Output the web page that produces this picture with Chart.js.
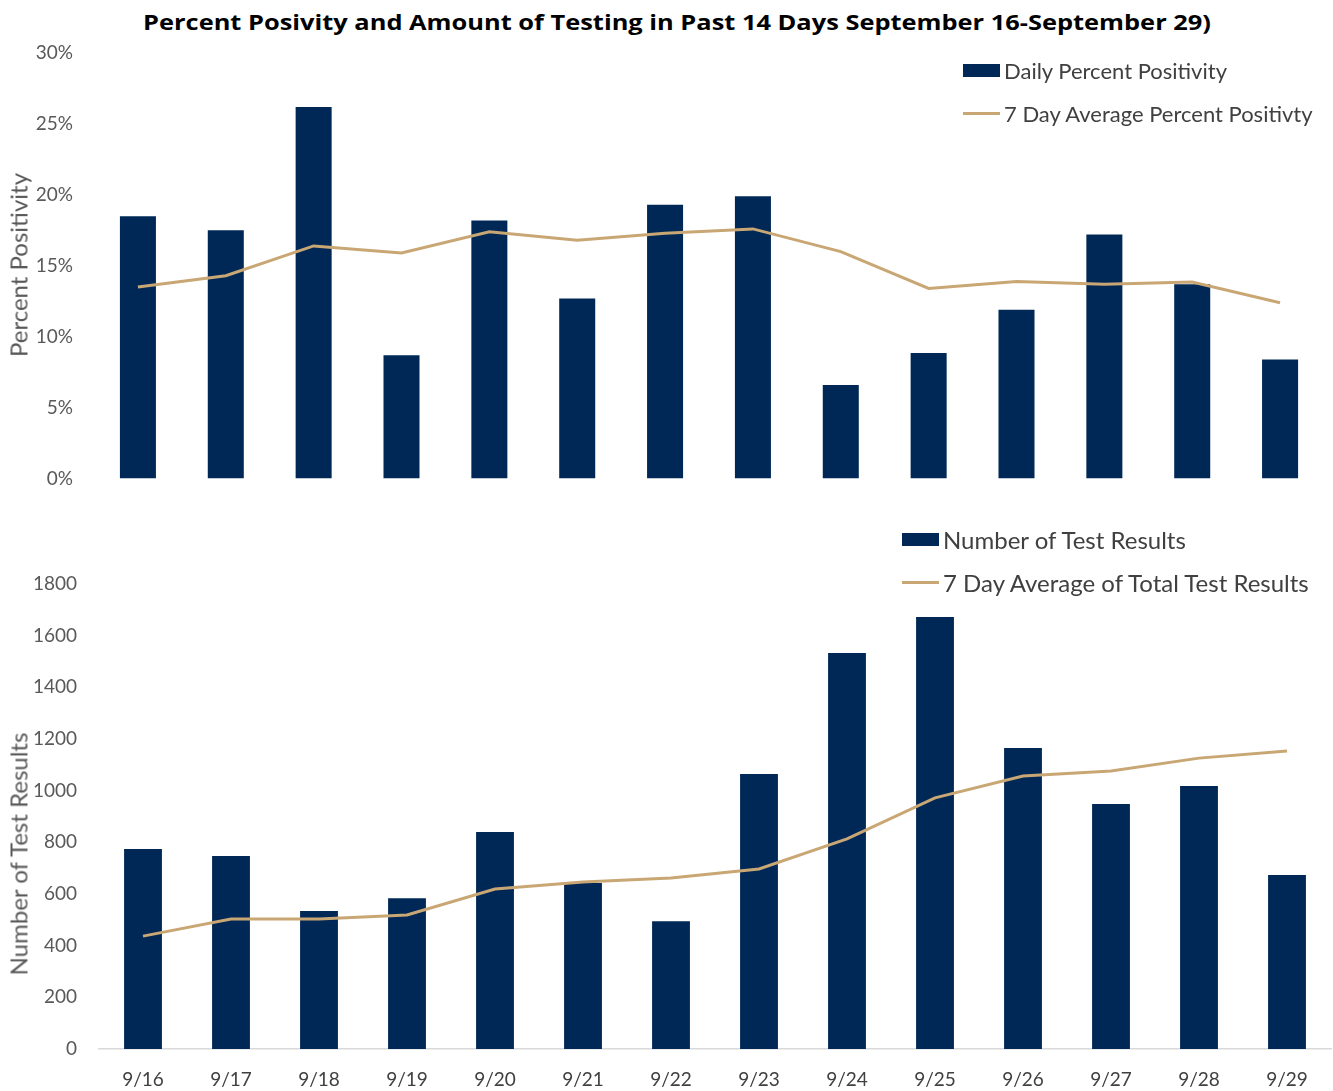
<!DOCTYPE html>
<html>
<head>
<meta charset="utf-8">
<script src="https://cdn.jsdelivr.net/npm/chart.js@4.4.1/dist/chart.umd.min.js"></script>
<style>
  body { margin: 0; background: #fff; font-family: Lato, "Open Sans", sans-serif; }
  #wrap { position: relative; width: 1333px; height: 1091px; overflow: hidden; }
  .panel { position: absolute; left: 0; width: 1333px; }
  #title { position: absolute; left: 677px; top: 22px; transform: translate(-50%, -50%) scaleX(1.21);
           font-family: "Open Sans", Lato, sans-serif;
           font-weight: 700; font-size: 21px; color: #000; white-space: nowrap; }
  .ytitle { position: absolute; transform: translate(-50%, -50%) rotate(-90deg);
            font-size: 24px; color: #595959; white-space: nowrap; }
  .legend { position: absolute; color: #404040; }
  .legend .item { display: flex; align-items: center; height: 43px; white-space: nowrap; }
  .legend .sw-box { display: inline-block; width: 37px; height: 13px; margin-right: 4px; }
  .legend .sw-line { display: inline-block; width: 37px; height: 3px; margin-right: 4px; }
</style>
</head>
<body>
<div id="wrap">
  <div id="title">Percent Posivity and Amount of Testing in Past 14 Days September 16-September 29)</div>
  <div class="panel" style="top:0;height:511px"><canvas id="posChart"></canvas></div>
  <div class="panel" style="top:490px;height:601px"><canvas id="testChart"></canvas></div>
  <div class="ytitle" style="left:18px;top:265px">Percent Positivity</div>
  <div class="ytitle" style="left:18px;top:854px">Number of Test Results</div>
  <div class="legend" id="posLegend" style="left:963px;top:49px;font-size:22px"></div>
  <div class="legend" id="testLegend" style="left:902px;top:518px;font-size:24px"></div>
</div>
<script>
// Values.
const DAYS = ['9/16', '9/17', '9/18', '9/19', '9/20', '9/21', '9/22',
              '9/23', '9/24', '9/25', '9/26', '9/27', '9/28', '9/29'];

const DAILY_POSITIVITY = [18.5, 17.5, 26.2, 8.7, 18.2, 12.7, 19.3, 19.9, 6.6, 8.85, 11.9, 17.2, 13.7, 8.4];
const AVG_POSITIVITY   = [13.5, 14.3, 16.4, 15.9, 17.4, 16.8, 17.3, 17.6, 16.0, 13.4, 13.9, 13.7, 13.85, 12.4];

const TEST_RESULTS = [774, 747, 534, 584, 840, 643, 495, 1065, 1533, 1672, 1165, 948, 1018, 674];
const AVG_TESTS    = [437, 503, 503, 519, 619, 646, 662, 697, 813, 972, 1057, 1076, 1126, 1154];

const PCT_AXIS   = { min: 0, max: 30, step: 5 };
const TEST_AXIS  = { min: 0, max: 1800, step: 200 };

const NAVY = '#002856';
const TAN  = '#c9a774';
const TICK_FONT = { family: 'Lato, "Open Sans", sans-serif', size: 19 };

function fixWidth(w) { return scale => { scale.width = w; }; }
function fixHeight(h) { return scale => { scale.height = h; }; }

function buildLegend(el, chart) {
  el.innerHTML = chart.data.datasets.map(ds => {
    const sw = ds.type === 'line'
      ? `<span class="sw-line" style="background:${ds.borderColor}"></span>`
      : `<span class="sw-box" style="background:${ds.backgroundColor}"></span>`;
    return `<div class="item">${sw}<span>${ds.label}</span></div>`;
  }).join('');
}

function makeChart(id, cfg) {
  return new Chart(document.getElementById(id).getContext('2d'), {
    data: {
      labels: DAYS,
      datasets: [
        { type: 'bar', label: cfg.barLabel, data: cfg.bars, backgroundColor: NAVY,
          barPercentage: cfg.barPct, categoryPercentage: 1, order: 1 },
        { type: 'line', label: cfg.lineLabel, data: cfg.line, borderColor: TAN,
          borderWidth: 3, pointRadius: 0, tension: 0, fill: false, order: 0 },
      ],
    },
    options: {
      responsive: true, maintainAspectRatio: false, animation: false,
      layout: { padding: cfg.padding },
      plugins: { legend: { display: false }, tooltip: { enabled: false } },
      scales: {
        x: {
          display: cfg.showX,
          grid: { display: false, drawTicks: false },
          border: { display: cfg.showX, color: '#d9d9d9', width: 1.5 },
          ticks: { color: '#404040', font: TICK_FONT, padding: 19, maxRotation: 0 },
          afterFit: fixHeight(cfg.xHeight || 0),
        },
        y: {
          min: cfg.axis.min, max: cfg.axis.max,
          grid: { display: false, drawTicks: false },
          border: { display: false },
          ticks: { stepSize: cfg.axis.step, color: '#595959', font: TICK_FONT,
                   padding: cfg.tickPad, callback: cfg.fmt },
          afterFit: fixWidth(cfg.yWidth),
        },
      },
    },
  });
}

const posChart = makeChart('posChart', {
  barLabel: 'Daily Percent Positivity', lineLabel: '7 Day Average Percent Positivty',
  bars: DAILY_POSITIVITY, line: AVG_POSITIVITY, axis: PCT_AXIS, barPct: 0.41,
  fmt: v => v + '%', showX: false, yWidth: 94, tickPad: 21,
  padding: { top: 53, bottom: 12, left: 0, right: 9 },
});

const testChart = makeChart('testChart', {
  barLabel: 'Number of Test Results', lineLabel: '7 Day Average of Total Test Results',
  bars: TEST_RESULTS, line: AVG_TESTS, axis: TEST_AXIS, barPct: 0.43,
  fmt: v => v, showX: true, xHeight: 42, yWidth: 99, tickPad: 22,
  padding: { top: 94, bottom: 0, left: 0, right: 2 },
});

buildLegend(document.getElementById('posLegend'), posChart);
buildLegend(document.getElementById('testLegend'), testChart);
</script>
</body>
</html>
